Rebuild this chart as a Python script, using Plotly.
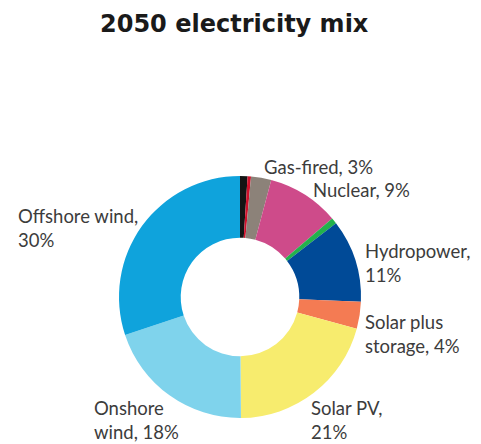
import plotly.graph_objects as go

# Slices clockwise from 12 o'clock
sources = ["Coal", "Oil", "Gas-fired", "Nuclear", "Other renewables", "Hydropower",
           "Solar plus storage", "Solar PV", "Onshore wind", "Offshore wind"]
shares = [1.0, 0.45, 2.7, 9.6, 0.8, 11.0, 3.6, 20.6, 20.0, 30.0]
colors = ["#141414", "#D0102B", "#8C8279", "#CE4B8A", "#22B24C", "#004A97",
          "#F47B53", "#F7EC6E", "#7FD3EC", "#0FA3DC"]

# Outside labels (text as printed in the chart)
label_texts = ["Gas-fired, 3%", "Nuclear, 9%", "Hydropower,<br>11%",
               "Solar plus<br>storage, 4%", "Solar PV,<br>21%",
               "Onshore<br>wind, 18%", "Offshore wind,<br>30%"]
label_px = [(262, 167), (311, 190), (363, 263), (363, 334), (309, 420),
            (92, 420), (16, 228)]

OFF = 8  # page body margin
W, H = 481 - OFF, 444 - OFF


def px2paper(x, y):
    return (x - OFF) / W, 1 - (y - OFF) / H


cx, cy, r = 240, 297, 121
x0, y1 = px2paper(cx - r, cy - r)
x1, y0 = px2paper(cx + r, cy + r)

fig = go.Figure(go.Pie(
    labels=sources, values=shares, sort=False, direction="clockwise",
    rotation=0, hole=0.49, textinfo="none", hoverinfo="label+percent",
    marker=dict(colors=colors, line=dict(width=0)),
    domain=dict(x=[x0, x1], y=[y0, y1]),
    showlegend=False,
))

annotations = []
for t, (px, py) in zip(label_texts, label_px):
    ax, ay = px2paper(px, py)
    annotations.append(dict(
        text=t, x=ax, y=ay, xref="paper", yref="paper",
        xanchor="left", yanchor="middle", align="left", showarrow=False,
        font=dict(family="Lato", size=18.5, color="#3c3c3c")))
tx, ty = px2paper(234, 24)
annotations.append(dict(
    text="<b>2050 electricity mix</b>", x=tx, y=ty,
    xref="paper", yref="paper", xanchor="center", yanchor="middle",
    showarrow=False, font=dict(family="DejaVu Sans", size=24, color="#1a1a1a")))

fig.update_layout(
    width=W, height=H, margin=dict(l=0, r=0, t=0, b=0),
    paper_bgcolor="white", plot_bgcolor="white",
    annotations=annotations,
)
fig.write_html("out.html")
